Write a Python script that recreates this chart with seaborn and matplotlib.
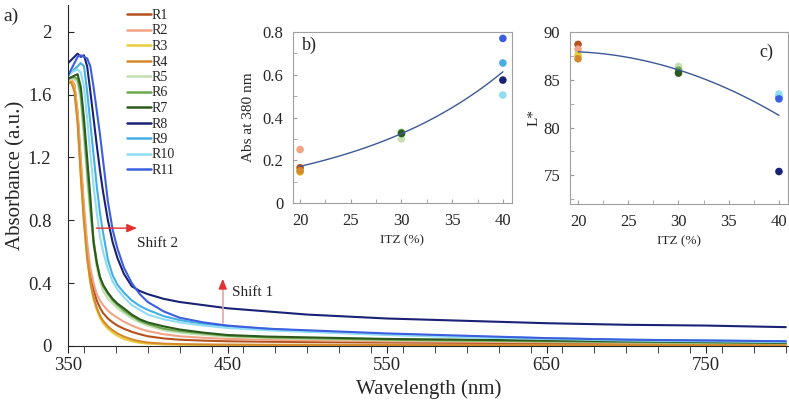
import numpy as np
import pandas as pd
import seaborn as sns
import matplotlib.pyplot as plt
from matplotlib.ticker import MultipleLocator

# spectra
wavelength = [350, 352, 354, 356, 358, 360, 362, 364, 366, 368, 370, 372, 375, 378, 381,
              385, 390, 395, 400, 410, 420, 435, 450, 475, 500, 550, 600, 650, 700, 750, 800]

abs_r1 = [1.69, 1.70, 1.66, 1.48, 1.16, 0.86, 0.62, 0.46, 0.36, 0.29, 0.245, 0.21, 0.175, 0.15, 0.13,
          0.11, 0.09, 0.075, 0.062, 0.048, 0.04, 0.034, 0.03, 0.027, 0.025, 0.022, 0.02, 0.018, 0.016, 0.015, 0.014]
abs_r2 = [1.68, 1.70, 1.66, 1.50, 1.20, 0.90, 0.66, 0.50, 0.40, 0.33, 0.29, 0.26, 0.225, 0.20, 0.18,
          0.155, 0.13, 0.11, 0.095, 0.075, 0.062, 0.052, 0.045, 0.04, 0.036, 0.03, 0.027, 0.024, 0.021, 0.019, 0.017]
abs_r3 = [1.68, 1.69, 1.64, 1.44, 1.10, 0.80, 0.56, 0.40, 0.30, 0.23, 0.18, 0.145, 0.11, 0.085, 0.065,
          0.045, 0.03, 0.02, 0.015, 0.01, 0.008, 0.007, 0.006, 0.006, 0.005, 0.005, 0.005, 0.005, 0.005, 0.005, 0.005]
abs_r4 = [1.67, 1.68, 1.62, 1.42, 1.08, 0.79, 0.56, 0.41, 0.31, 0.245, 0.195, 0.16, 0.125, 0.10, 0.08,
          0.06, 0.042, 0.03, 0.022, 0.015, 0.012, 0.01, 0.009, 0.008, 0.008, 0.007, 0.007, 0.007, 0.007, 0.007, 0.007]
abs_r5 = [1.69, 1.70, 1.70, 1.68, 1.56, 1.32, 1.06, 0.83, 0.64, 0.50, 0.41, 0.35, 0.30, 0.27, 0.24,
          0.21, 0.175, 0.15, 0.13, 0.10, 0.085, 0.07, 0.06, 0.05, 0.045, 0.037, 0.032, 0.028, 0.024, 0.02, 0.018]
abs_r6 = [1.70, 1.71, 1.71, 1.70, 1.60, 1.38, 1.12, 0.88, 0.68, 0.54, 0.44, 0.38, 0.33, 0.29, 0.26,
          0.225, 0.19, 0.16, 0.14, 0.11, 0.095, 0.08, 0.065, 0.055, 0.05, 0.04, 0.035, 0.03, 0.025, 0.022, 0.02]
abs_r7 = [1.70, 1.71, 1.72, 1.73, 1.65, 1.45, 1.20, 0.95, 0.66, 0.53, 0.44, 0.39, 0.34, 0.30, 0.27,
          0.24, 0.20, 0.17, 0.15, 0.125, 0.105, 0.085, 0.07, 0.06, 0.055, 0.045, 0.04, 0.035, 0.03, 0.025, 0.02]
abs_r8 = [1.80, 1.82, 1.84, 1.86, 1.84, 1.85, 1.78, 1.62, 1.45, 1.28, 1.12, 0.98, 0.80, 0.66, 0.56,
          0.46, 0.38, 0.35, 0.33, 0.30, 0.28, 0.26, 0.24, 0.22, 0.20, 0.175, 0.16, 0.145, 0.135, 0.13, 0.12]
abs_r9 = [1.72, 1.74, 1.76, 1.78, 1.80, 1.78, 1.62, 1.42, 1.22, 1.02, 0.85, 0.72, 0.55, 0.45, 0.39,
          0.34, 0.29, 0.255, 0.23, 0.19, 0.165, 0.14, 0.125, 0.11, 0.095, 0.075, 0.06, 0.05, 0.04, 0.035, 0.03]
abs_r10 = [1.72, 1.74, 1.75, 1.76, 1.74, 1.65, 1.45, 1.22, 1.02, 0.85, 0.70, 0.60, 0.49, 0.41, 0.36,
           0.31, 0.26, 0.23, 0.20, 0.17, 0.15, 0.13, 0.115, 0.10, 0.09, 0.07, 0.055, 0.045, 0.035, 0.03, 0.025]
abs_r11 = [1.72, 1.76, 1.80, 1.84, 1.85, 1.84, 1.83, 1.78, 1.65, 1.50, 1.35, 1.18, 0.92, 0.74, 0.62,
           0.50, 0.40, 0.33, 0.28, 0.22, 0.18, 0.15, 0.13, 0.11, 0.10, 0.08, 0.065, 0.05, 0.04, 0.035, 0.03]

samples = ['R1', 'R2', 'R3', 'R4', 'R5', 'R6', 'R7', 'R8', 'R9', 'R10', 'R11']
colors = ['#b4521f', '#f2a385', '#e8cc3c', '#d48a2c', '#c4dfb4', '#6aa84f',
          '#2c5a1c', '#1a2275', '#45aee6', '#90dcf4', '#3c5fe0']

# inset data
itz = [20, 20, 20, 20, 30, 30, 30, 40, 40, 40, 40]
abs_380 = [0.165, 0.25, 0.145, 0.15, 0.30, 0.33, 0.325, 0.575, 0.655, 0.505, 0.77]
l_star = [88.7, 88.2, 87.6, 87.2, 86.4, 86.0, 85.7, 75.4, 83.2, 83.5, 83.0]

spectra = [abs_r1, abs_r2, abs_r3, abs_r4, abs_r5, abs_r6, abs_r7, abs_r8, abs_r9, abs_r10, abs_r11]
df = pd.concat([pd.DataFrame({'Wavelength': wavelength, 'Absorbance': a, 'Sample': s})
                for s, a in zip(samples, spectra)])
df_pts = pd.DataFrame({'ITZ': itz, 'Abs': abs_380, 'L': l_star, 'Sample': samples})

sns.set_style('ticks')
plt.rcParams['font.family'] = ['Liberation Serif']
palette = dict(zip(samples, colors))

fig = plt.figure(figsize=(7.89, 4.04), dpi=100)
ax = fig.add_axes([68/789, 58/404, 721/789, 341/404])
sns.lineplot(data=df, x='Wavelength', y='Absorbance', hue='Sample', palette=palette,
             linewidth=1.5, ax=ax, legend=False)
ax.set_xlim(350, 802)
ax.set_ylim(0, 2.17)
ax.set_xticks([350, 450, 550, 650, 750])
ax.xaxis.set_minor_locator(MultipleLocator(20))
ax.set_yticks([0, 0.4, 0.8, 1.2, 1.6, 2.0])
ax.set_yticklabels(['0', '0.4', '0.8', '1.2', '1.6', '2'])
ax.tick_params(axis='x', direction='out', labelsize=13.5, length=5, pad=3)
ax.tick_params(axis='x', which='minor', direction='out', length=5)
ax.tick_params(axis='y', direction='in', labelsize=13.5, length=4, pad=12)
ax.set_xlabel('Wavelength (nm)', fontsize=15, labelpad=4)
ax.set_ylabel('Absorbance (a.u.)', fontsize=15, labelpad=2)
sns.despine(ax=ax)
fig.text(3/789, 1 - 16/404, 'a)', fontsize=14, va='center')

handles = [plt.Line2D([], [], color=c, lw=1.8) for c in colors]
ax.legend(handles, samples, loc='upper left', bbox_to_anchor=(127/789, 1 - 9/404),
          bbox_transform=fig.transFigure, frameon=False, fontsize=10, handlelength=1.7,
          handletextpad=0.1, labelspacing=0.18, borderpad=0, borderaxespad=0)

# shift arrows
ax.annotate('', xy=(395, 0.75), xytext=(366, 0.75),
            arrowprops=dict(arrowstyle='-|>,head_length=0.6,head_width=0.25', color='#e53030', lw=1))
ax.text(393, 0.655, 'Shift 2', fontsize=11, va='center')
ax.plot([447, 447], [0.146, 0.40], color='#e8a4a8', lw=1.2)
ax.annotate('', xy=(447, 0.445), xytext=(447, 0.38),
            arrowprops=dict(arrowstyle='-|>,head_length=0.6,head_width=0.25', color='#e53030', lw=1))
ax.text(453, 0.34, 'Shift 1', fontsize=11, va='center')

xfit = np.linspace(20, 40, 100)

# inset b
axb = fig.add_axes([293/789, 201/404, 219/789, 171/404])
sns.scatterplot(data=df_pts, x='ITZ', y='Abs', hue='Sample', palette=palette, s=30,
                edgecolor='none', ax=axb, legend=False)
k, c0 = np.polyfit(itz, np.log(abs_380), 1)
axb.plot(xfit, np.exp(c0 + k * xfit), color='#3b5996', lw=1)
axb.set_xlim(19.3, 40.9)
axb.set_ylim(0, 0.8)
axb.set_xticks([20, 25, 30, 35, 40])
axb.set_yticks([0, 0.2, 0.4, 0.6, 0.8])
axb.set_yticklabels(['0', '0.2', '0.4', '0.6', '0.8'])
axb.xaxis.set_minor_locator(MultipleLocator(2.5))
axb.yaxis.set_minor_locator(MultipleLocator(0.1))
axb.set_xlabel('ITZ (%)', fontsize=9.5, labelpad=4)
axb.set_ylabel('Abs at 380 nm', fontsize=11, labelpad=5)
axb.text(0.04, 0.92, 'b)', transform=axb.transAxes, fontsize=13, va='center')

# inset c
axc = fig.add_axes([570/789, 200/404, 218/789, 172/404])
sns.scatterplot(data=df_pts, x='ITZ', y='L', hue='Sample', palette=palette, s=30,
                edgecolor='none', ax=axc, legend=False)
pc = np.polyfit(itz, l_star, 2)
axc.plot(xfit, np.polyval(pc, xfit), color='#3b5996', lw=1)
axc.set_xlim(19.2, 40.9)
axc.set_ylim(72, 90)
axc.set_xticks([20, 25, 30, 35, 40])
axc.set_yticks([75, 80, 85, 90])
axc.xaxis.set_minor_locator(MultipleLocator(2.5))
axc.yaxis.set_minor_locator(MultipleLocator(2.5))
axc.set_xlabel('ITZ (%)', fontsize=9.5, labelpad=4)
axc.set_ylabel('L*', fontsize=11, labelpad=2)
axc.text(0.87, 0.88, 'c)', transform=axc.transAxes, fontsize=13, va='center')

for a in (axb, axc):
    for sp in a.spines.values():
        sp.set_color('#a0a0a0')
        sp.set_linewidth(0.8)
    a.tick_params(which='both', direction='in', color='#a0a0a0', labelsize=12, length=3)
    a.tick_params(axis='x', pad=7)
    a.tick_params(axis='y', pad=7)

fig.savefig('out.png', dpi=100)
